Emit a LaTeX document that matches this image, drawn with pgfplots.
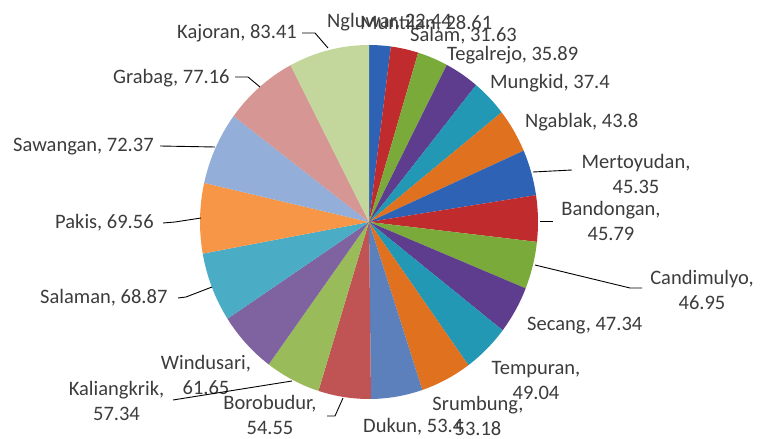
\documentclass[border=0pt]{standalone}
\usepackage{pgfplots}
\usepackage{pgfplotstable}
\pgfplotsset{compat=1.18}
\usepackage{fontspec}
\setmainfont{Carlito}

\definecolor{c0}{HTML}{2D62B4}
\definecolor{c1}{HTML}{C02C2E}
\definecolor{c2}{HTML}{7AAB3A}
\definecolor{c3}{HTML}{5E3C8E}
\definecolor{c4}{HTML}{2298B5}
\definecolor{c5}{HTML}{E0711F}
\definecolor{c6}{HTML}{2D62B4}
\definecolor{c7}{HTML}{C02C2E}
\definecolor{c8}{HTML}{7AAB3A}
\definecolor{c9}{HTML}{5E3C8E}
\definecolor{c10}{HTML}{2298B5}
\definecolor{c11}{HTML}{E0711F}
\definecolor{c12}{HTML}{5B80BC}
\definecolor{c13}{HTML}{C05353}
\definecolor{c14}{HTML}{9ABB59}
\definecolor{c15}{HTML}{7F63A0}
\definecolor{c16}{HTML}{4BACC6}
\definecolor{c17}{HTML}{F79646}
\definecolor{c18}{HTML}{93AED8}
\definecolor{c19}{HTML}{D69694}
\definecolor{c20}{HTML}{C3D69B}
\definecolor{txt}{RGB}{60,60,60}

\tikzset{lbl/.style={font=\fontsize{20.5}{25}\selectfont, text=txt, inner sep=0pt}}

\pgfplotstableread{
name value
Ngluwar 22.44
Muntilan 28.61
Salam 31.63
Tegalrejo 35.89
Mungkid 37.4
Ngablak 43.8
Mertoyudan 45.35
Bandongan 45.79
Candimulyo 46.95
Secang 47.34
Tempuran 49.04
Srumbung 53.18
Dukun 53.4
Borobudur 54.55
Kaliangkrik 57.34
Windusari 61.65
Salaman 68.87
Pakis 69.56
Sawangan 72.37
Grabag 77.16
Kajoran 83.41
}\datatable

\begin{document}
\begin{tikzpicture}
\gdef\runsum{0}
\pgfplotsforeachungrouped \i in {0,...,20}{%
  \pgfplotstablegetelem{\i}{value}\of\datatable
  \pgfmathsetmacro\tmp{\runsum+\pgfplotsretval}%
  \xdef\runsum{\tmp}%
}
\xdef\total{\runsum}
\gdef\runsum{0}
\pgfplotsforeachungrouped \i in {0,...,20}{%
  \pgfplotstablegetelem{\i}{value}\of\datatable
  \pgfmathsetmacro\sa{90-\runsum/\total*360}%
  \pgfmathsetmacro\tmp{\runsum+\pgfplotsretval}%
  \xdef\runsum{\tmp}%
  \pgfmathsetmacro\ea{90-\runsum/\total*360}%
  \expandafter\xdef\csname sa\i\endcsname{\sa}%
  \expandafter\xdef\csname ea\i\endcsname{\ea}%
}
\begin{axis}[
  x=1pt, y=1pt,
  xmin=0, xmax=766, ymin=0, ymax=439,
  axis lines=box, axis line style={draw=none}, ticks=none,
  clip=false,
]
\pgfplotsinvokeforeach{0,...,20}{
  \fill[c#1] (axis cs:369,217) -- ++(\csname sa#1\endcsname:169pt and 177pt)
    arc[start angle=\csname sa#1\endcsname, end angle=\csname ea#1\endcsname, x radius=169pt, y radius=177pt] -- cycle;
}
% single-line labels (pixel y converted: 439 - py)
\node[lbl,anchor=west] at (axis cs:177,406) {Kajoran, 83.41};
\node[lbl,anchor=west] at (axis cs:113,361) {Grabag, 77.16};
\node[lbl,anchor=west] at (axis cs:13,292) {Sawangan, 72.37};
\node[lbl,anchor=west] at (axis cs:55,216) {Pakis, 69.56};
\node[lbl,anchor=west] at (axis cs:40,141) {Salaman, 68.87};
\node[lbl,anchor=west] at (axis cs:327,417) {Ngluwar, 22.44};
\node[lbl,anchor=west] at (axis cs:360,415) {Muntilan, 28.61};
\node[lbl,anchor=west] at (axis cs:410,403) {Salam, 31.63};
\node[lbl,anchor=west] at (axis cs:447,384) {Tegalrejo, 35.89};
\node[lbl,anchor=west] at (axis cs:490,356) {Mungkid, 37.4};
\node[lbl,anchor=west] at (axis cs:525,317) {Ngablak, 43.8};
\node[lbl,anchor=west] at (axis cs:527,113) {Secang, 47.34};
\node[lbl,anchor=west] at (axis cs:363,12) {Dukun, 53.4};
% two-line labels
\node[lbl,align=center] at (axis cs:636,265.5) {Mertoyudan,\\45.35};
\node[lbl,align=center] at (axis cs:611,218.5) {Bandongan,\\45.79};
\node[lbl,align=center] at (axis cs:702,149.5) {Candimulyo,\\46.95};
\node[lbl,align=center] at (axis cs:536,58) {Tempuran,\\49.04};
\node[lbl,align=center] at (axis cs:478,23.5) {Srumbung,\\53.18};
\node[lbl,align=center] at (axis cs:270,24.5) {Borobudur,\\54.55};
\node[lbl,align=center] at (axis cs:116.5,38) {Kaliangkrik,\\57.34};
\node[lbl,align=center] at (axis cs:206,64) {Windusari,\\61.65};
% leader lines
\begin{scope}[black, line width=0.9pt]
\draw (axis cs:302,406) -- (axis cs:315,406) -- (axis cs:328,391);
\draw (axis cs:235,362) -- (axis cs:248,362) -- (axis cs:260,352);
\draw (axis cs:160,293) -- (axis cs:215,292);
\draw (axis cs:163,216) -- (axis cs:175,217) -- (axis cs:201,221);
\draw (axis cs:178,141) -- (axis cs:186,142) -- (axis cs:212,152);
\draw (axis cs:173,39) -- (axis cs:292,58);
\draw (axis cs:327,23) -- (axis cs:335,23) -- (axis cs:343,41);
\draw (axis cs:533,267) -- (axis cs:572,269);
\draw (axis cs:540,218) -- (axis cs:553,218);
\draw (axis cs:535,174) -- (axis cs:630,151) -- (axis cs:642,151);
\end{scope}
\end{axis}
\end{tikzpicture}
\end{document}
